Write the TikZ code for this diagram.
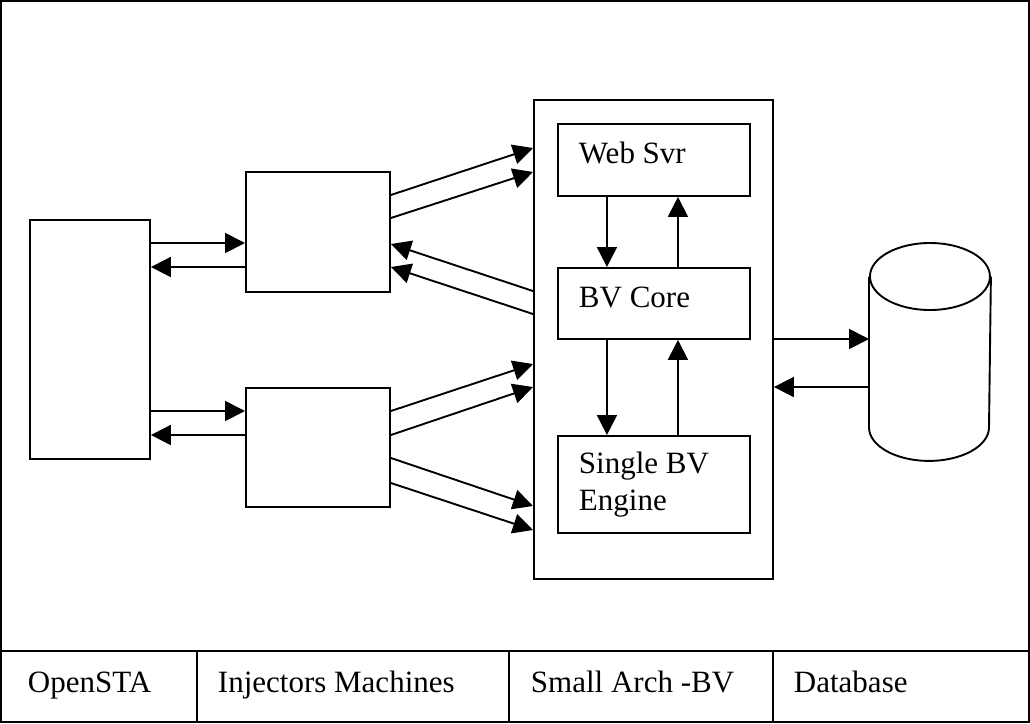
\documentclass[tikz,border=0pt]{standalone}
\usepackage{fontspec}
\setmainfont{Liberation Serif}
\usetikzlibrary{arrows.meta}

\begin{document}
\begin{tikzpicture}[x=1pt,y=-1pt,line width=1.9pt,
        box/.style={draw,inner sep=0pt,anchor=north west},
        txt/.style={font=\fontsize{31}{37}\selectfont,inner sep=0pt,anchor=base west},
        link/.style={-{Triangle[length=20pt,width=20pt]}}]
    \useasboundingbox (0,0) rectangle (1030,723);
    %% frame and legend row
    \draw (1,1) rectangle (1029,722);
    \draw (1,651) -- (1029,651);
    \foreach \x in {197,509,773} \draw (\x,651) -- (\x,722);
    \node[txt] (lblsta) at (27,692) {OpenSTA};
    \node[txt] (lblinj) at (217,692) {Injectors Machines};
    \node[txt] (lblarch) at (530,692) {Small Arch -BV};
    \node[txt] (lbldb) at (793,692) {Database};
    %% machines
    \node[box,minimum width=120pt,minimum height=239pt] (sta) at (29,219) {};
    \node[box,minimum width=144pt,minimum height=120pt] (inj1) at (245,171) {};
    \node[box,minimum width=144pt,minimum height=119pt] (inj2) at (245,387) {};
    \node[box,minimum width=239pt,minimum height=479pt] (arch) at (533,99) {};
    \node[box,minimum width=192pt,minimum height=72pt] (web) at (557,123) {};
    \node[box,minimum width=192pt,minimum height=71pt] (core) at (557,267) {};
    \node[box,minimum width=192pt,minimum height=97pt] (engine) at (557,435) {};
    \node[txt] (webtxt) at ([xshift=21pt,yshift=-40pt]web.north west) {Web Svr};
    \node[txt] (coretxt) at ([xshift=21pt,yshift=-40pt]core.north west) {BV Core};
    \node[txt,align=left] (enginetxt) at ([xshift=21pt,yshift=-75pt]engine.north west) {Single BV\\Engine};
    %% database
    \node[minimum width=120pt,minimum height=216pt,inner sep=0pt,anchor=north west] (db) at (869,243) {};
    \draw ([yshift=-33.5pt]db.north) ellipse [x radius=60pt,y radius=33.5pt];
    \draw ([yshift=-33.5pt]db.north west) -- ([yshift=33.5pt]db.south west)
        arc[start angle=180,end angle=360,x radius=60pt,y radius=33.5pt] -- ([yshift=-33.5pt]db.north east);
    %% OpenSTA <-> injectors
    \draw[link] ([yshift=-24pt]sta.north east) -- ([yshift=-72pt]inj1.north west);
    \draw[link] ([yshift=-96pt]inj1.north west) -- ([yshift=-48pt]sta.north east);
    \draw[link] ([yshift=-192pt]sta.north east) -- ([yshift=-24pt]inj2.north west);
    \draw[link] ([yshift=-48pt]inj2.north west) -- ([yshift=-216pt]sta.north east);
    %% injectors <-> small arch
    \foreach \a/\b in {24/49,47/73} \draw[link] ([yshift=-\a pt]inj1.north east) -- ([yshift=-\b pt]arch.north west);
    \foreach \a/\b in {73/192,96/215} \draw[link] ([yshift=-\b pt]arch.north west) -- ([yshift=-\a pt]inj1.north east);
    \foreach \a/\b in {24/265,48/288,71/407,96/431} \draw[link] ([yshift=-\a pt]inj2.north east) -- ([yshift=-\b pt]arch.north west);
    %% inside small arch
    \draw[link] ([xshift=-47pt]web.south) -- ([xshift=-47pt]core.north);
    \draw[link] ([xshift=24pt]core.north) -- ([xshift=24pt]web.south);
    \draw[link] ([xshift=-47pt]core.south) -- ([xshift=-47pt]engine.north);
    \draw[link] ([xshift=24pt]engine.north) -- ([xshift=24pt]core.south);
    %% small arch <-> database
    \draw[link] ([yshift=-240pt]arch.north east) -- ([yshift=-96pt]db.north west);
    \draw[link] ([yshift=-144pt]db.north west) -- ([yshift=-288pt]arch.north east);
\end{tikzpicture}
\end{document}
